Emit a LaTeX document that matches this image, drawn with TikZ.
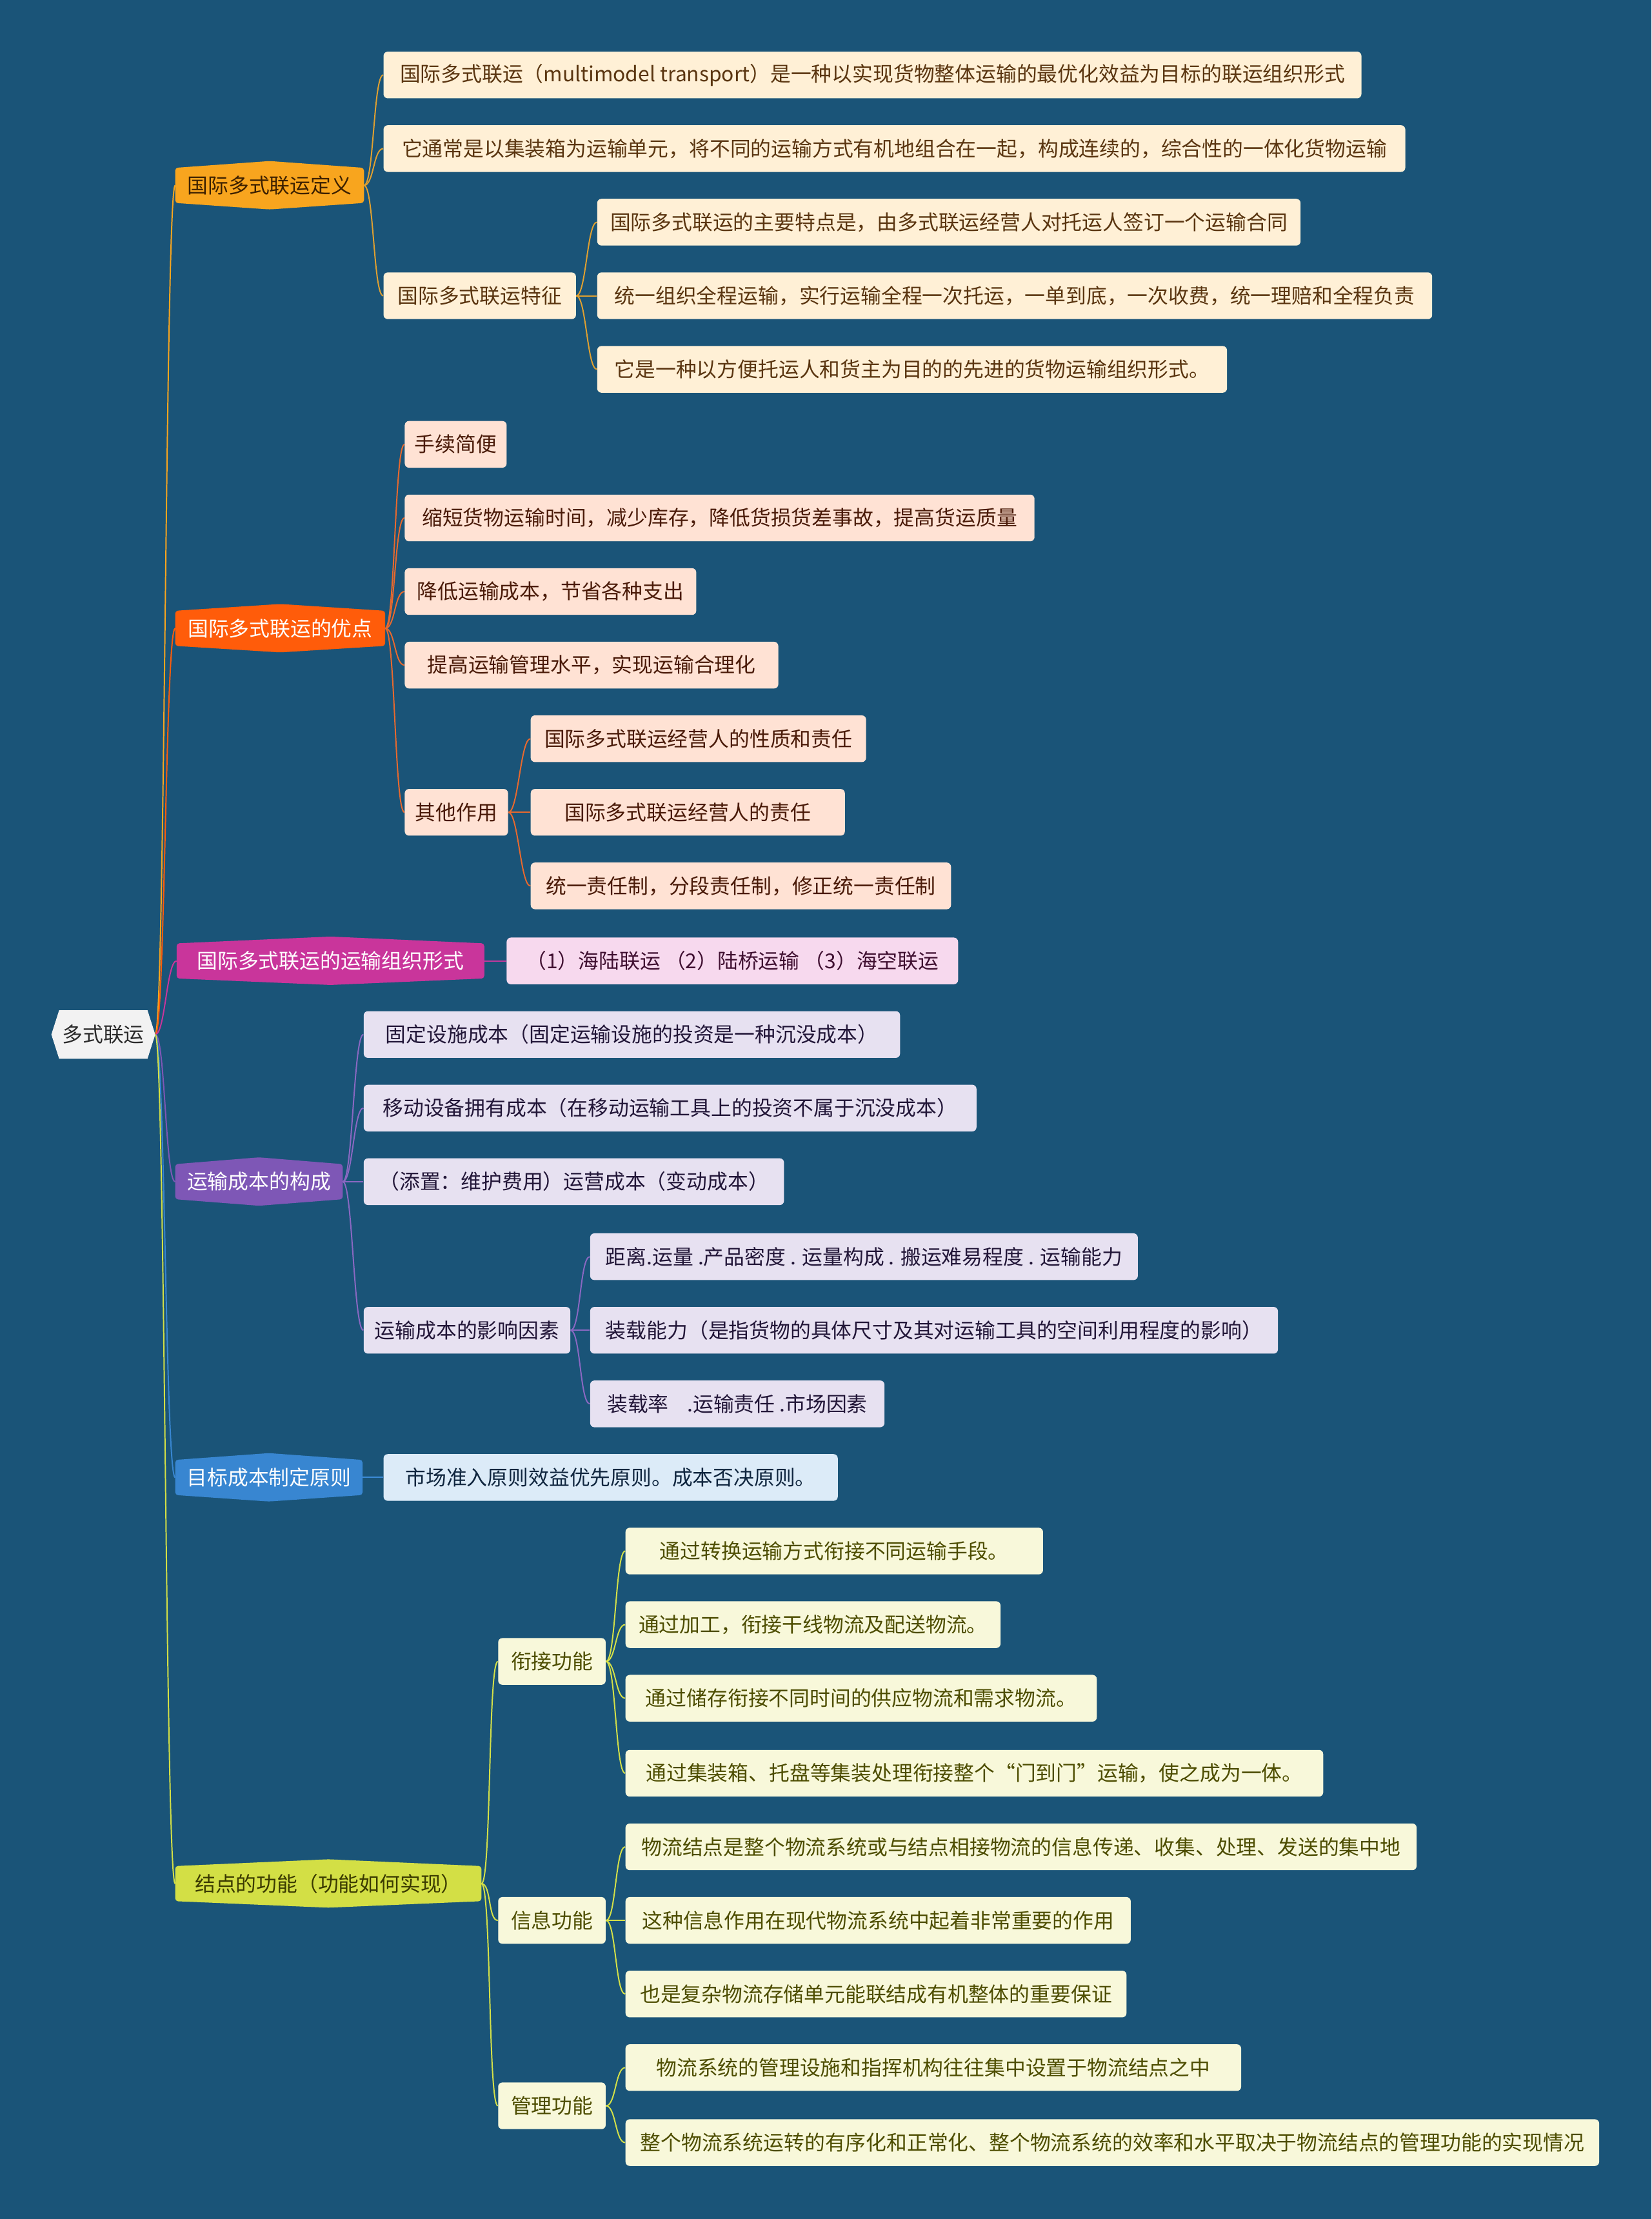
\documentclass[tikz,border=0pt]{standalone}
\usepackage{fontspec}
\newfontfamily\cjk{Noto Sans CJK SC}
\usetikzlibrary{calc}
\pgfdeclarelayer{bgl}\pgfdeclarelayer{mid}\pgfsetlayers{bgl,mid,main}
\definecolor{bgc}{HTML}{1A5478}
\definecolor{rootf}{HTML}{F2F2F2}\definecolor{roott}{HTML}{2B2B2B}
\definecolor{cA}{HTML}{F8A51E}\definecolor{cB}{HTML}{FF5C0A}\definecolor{cC}{HTML}{C9359B}
\definecolor{cD}{HTML}{7E57B6}\definecolor{cE}{HTML}{3886D1}\definecolor{cF}{HTML}{D3DF45}
\definecolor{tAone}{HTML}{3D2100}\definecolor{tFone}{HTML}{3A3A00}
\definecolor{fA}{HTML}{FFF0D6}\definecolor{tA}{HTML}{5A3510}
\definecolor{fB}{HTML}{FFE2D4}\definecolor{tB}{HTML}{4A1A08}
\definecolor{fC}{HTML}{F7D9EE}\definecolor{tC}{HTML}{3F0F30}
\definecolor{fD}{HTML}{E7E1F1}\definecolor{tD}{HTML}{221638}
\definecolor{fE}{HTML}{DCEBF8}\definecolor{tE}{HTML}{10263F}
\definecolor{fF}{HTML}{F8F8DA}\definecolor{tF}{HTML}{4D4D00}
\definecolor{lA}{HTML}{E0A030}\definecolor{lB}{HTML}{E8692E}\definecolor{lC}{HTML}{C0399C}
\definecolor{lD}{HTML}{8A68C2}\definecolor{lE}{HTML}{3C8BD6}\definecolor{lF}{HTML}{D4E048}
\tikzset{
  base/.style={inner sep=0pt, font=\cjk\fontsize{14.5}{17}\selectfont, align=center},
  leaf/.style={base, rounded corners=3pt, minimum height=33pt},
  lone/.style={base, minimum height=24.4pt},
  lk/.style={line width=0.9pt},
  leafA/.style={leaf, fill=fA, text=tA},
  leafB/.style={leaf, fill=fB, text=tB},
  leafC/.style={leaf, fill=fC, text=tC},
  leafD/.style={leaf, fill=fD, text=tD},
  leafE/.style={leaf, fill=fE, text=tE},
  leafF/.style={leaf, fill=fF, text=tF},
}
\newcommand\hexbox[2]{\fill[#2, rounded corners=2pt] (#1.north west) -- ($(#1.north)+(0pt,4.8pt)$) -- (#1.north east) -- (#1.south east) -- ($(#1.south)+(0pt,-4.6pt)$) -- (#1.south west) -- cycle;}
\newcommand\link[3]{\draw[lk,#1] (#2) .. controls +(7pt,0pt) and +(-7pt,0pt) .. (#3);}
\begin{document}
\begin{tikzpicture}[x=1pt,y=-1pt]
\useasboundingbox (0,0) rectangle (1167,1568);
\begin{pgfonlayer}{bgl}
\fill[bgc] (0,0) rectangle (1167,1568);
\end{pgfonlayer}

% root
\node[base, minimum width=62pt, minimum height=34pt, text=roott] (root) at (73,731) {多式联运};
\coordinate (rootR) at ($(root.east)+(5.5pt,0pt)$);

% level 1
\node[lone, minimum width=133pt, text=tAone] (d1) at (190.5,131) {国际多式联运定义};
\node[lone, minimum width=148pt, text=white] (d2) at (198,444) {国际多式联运的优点};
\node[lone, minimum width=217pt, text=white] (d3) at (233.5,679) {国际多式联运的运输组织形式};
\node[lone, minimum width=118pt, text=white] (d4) at (183,835) {运输成本的构成};
\node[lone, minimum width=132pt, text=white] (d5) at (190,1044) {目标成本制定原则};
\node[lone, minimum width=216pt, text=tFone] (d6) at (232,1331) {结点的功能（功能如何实现）};

% branch A
\node[leafA, minimum width=691pt] (a1) at (616.5,53) {国际多式联运（multimodel transport）是一种以实现货物整体运输的最优化效益为目标的联运组织形式};
\node[leafA, minimum width=722pt] (a2) at (632,105) {它通常是以集装箱为运输单元，将不同的运输方式有机地组合在一起，构成连续的，综合性的一体化货物运输};
\node[leafA, minimum width=136pt] (a3) at (339,209) {国际多式联运特征};
\node[leafA, minimum width=497pt] (a31) at (670.5,157) {国际多式联运的主要特点是，由多式联运经营人对托运人签订一个运输合同};
\node[leafA, minimum width=590pt] (a32) at (717,209) {统一组织全程运输，实行运输全程一次托运，一单到底，一次收费，统一理赔和全程负责};
\node[leafA, minimum width=445pt] (a33) at (644.5,261) {它是一种以方便托运人和货主为目的的先进的货物运输组织形式。};

% branch B
\node[leafB, minimum width=72pt] (b1) at (322,314) {手续简便};
\node[leafB, minimum width=445pt] (b2) at (508.5,366) {缩短货物运输时间，减少库存，降低货损货差事故，提高货运质量};
\node[leafB, minimum width=206pt] (b3) at (389,418) {降低运输成本，节省各种支出};
\node[leafB, minimum width=264pt] (b4) at (418,470) {提高运输管理水平，实现运输合理化};
\node[leafB, minimum width=73pt] (b5) at (322.5,574) {其他作用};
\node[leafB, minimum width=237pt] (b51) at (493.5,522) {国际多式联运经营人的性质和责任};
\node[leafB, minimum width=222pt] (b52) at (486,574) {国际多式联运经营人的责任};
\node[leafB, minimum width=297pt] (b53) at (523.5,626) {统一责任制，分段责任制，修正统一责任制};

% branch C
\node[leafC, minimum width=319pt] (c1) at (517.5,679) {（1）海陆联运 （2）陆桥运输 （3）海空联运};

% branch D
\node[leafD, minimum width=379pt] (e1) at (446.5,731) {固定设施成本（固定运输设施的投资是一种沉没成本）};
\node[leafD, minimum width=433pt] (e2) at (473.5,783) {移动设备拥有成本（在移动运输工具上的投资不属于沉没成本）};
\node[leafD, minimum width=297pt] (e3) at (405.5,835) {（添置：维护费用）运营成本（变动成本）};
\node[leafD, minimum width=146pt] (e4) at (330,940) {运输成本的影响因素};
\node[leafD, minimum width=387pt] (e41) at (610.5,888) {距离.运量 .产品密度 . 运量构成 . 搬运难易程度 . 运输能力};
\node[leafD, minimum width=486pt] (e42) at (660,940) {装载能力（是指货物的具体尺寸及其对运输工具的空间利用程度的影响）};
\node[leafD, minimum width=208pt] (e43) at (521,992) {装载率\hspace{0.9em}.运输责任 .市场因素};

% branch E
\node[leafE, minimum width=321pt] (f1) at (431.5,1044) {市场准入原则效益优先原则。成本否决原则。};

% branch F
\node[leafF, minimum width=76pt] (g1) at (390,1174) {衔接功能};
\node[leafF, minimum width=295pt] (g11) at (589.5,1096) {通过转换运输方式衔接不同运输手段。};
\node[leafF, minimum width=265pt] (g12) at (574.5,1148) {通过加工，衔接干线物流及配送物流。};
\node[leafF, minimum width=333pt] (g13) at (608.5,1200) {通过储存衔接不同时间的供应物流和需求物流。};
\node[leafF, minimum width=493pt] (g14) at (688.5,1253) {通过集装箱、托盘等集装处理衔接整个“门到门”运输，使之成为一体。};
\node[leafF, minimum width=76pt] (g2) at (390,1357) {信息功能};
\node[leafF, minimum width=559pt] (g21) at (721.5,1305) {物流结点是整个物流系统或与结点相接物流的信息传递、收集、处理、发送的集中地};
\node[leafF, minimum width=357pt] (g22) at (620.5,1357) {这种信息作用在现代物流系统中起着非常重要的作用};
\node[leafF, minimum width=354pt] (g23) at (619,1409) {也是复杂物流存储单元能联结成有机整体的重要保证};
\node[leafF, minimum width=76pt] (g3) at (390,1488) {管理功能};
\node[leafF, minimum width=435pt] (g31) at (659.5,1461) {物流系统的管理设施和指挥机构往往集中设置于物流结点之中};
\node[leafF, minimum width=688pt] (g32) at (786,1514) {整个物流系统运转的有序化和正常化、整个物流系统的效率和水平取决于物流结点的管理功能的实现情况};

\begin{pgfonlayer}{mid}
% root and level-1 shapes
\fill[rootf] (root.north west) -- (root.north east) -- (rootR) -- (root.south east) -- (root.south west) -- ($(root.west)+(-5.5pt,0pt)$) -- cycle;
\hexbox{d1}{cA}\hexbox{d2}{cB}\hexbox{d3}{cC}\hexbox{d4}{cD}\hexbox{d5}{cE}\hexbox{d6}{cF}
% root connectors
\link{cA}{rootR}{d1.west}
\link{cB}{rootR}{d2.west}
\link{cC}{rootR}{d3.west}
\link{cD}{rootR}{d4.west}
\link{cE}{rootR}{d5.west}
\link{cF}{rootR}{d6.west}
% branch A
\link{lA}{d1.east}{a1.west}
\link{lA}{d1.east}{a2.west}
\link{lA}{d1.east}{a3.west}
\link{lA}{a3.east}{a31.west}
\link{lA}{a3.east}{a32.west}
\link{lA}{a3.east}{a33.west}
% branch B
\link{lB}{d2.east}{b1.west}
\link{lB}{d2.east}{b2.west}
\link{lB}{d2.east}{b3.west}
\link{lB}{d2.east}{b4.west}
\link{lB}{d2.east}{b5.west}
\link{lB}{b5.east}{b51.west}
\link{lB}{b5.east}{b52.west}
\link{lB}{b5.east}{b53.west}
% branch C
\draw[lk,lC] (d3.east) -- (c1.west);
% branch D
\link{lD}{d4.east}{e1.west}
\link{lD}{d4.east}{e2.west}
\link{lD}{d4.east}{e3.west}
\link{lD}{d4.east}{e4.west}
\link{lD}{e4.east}{e41.west}
\link{lD}{e4.east}{e42.west}
\link{lD}{e4.east}{e43.west}
% branch E
\draw[lk,lE] (d5.east) -- (f1.west);
% branch F
\link{lF}{d6.east}{g1.west}
\link{lF}{d6.east}{g2.west}
\link{lF}{d6.east}{g3.west}
\link{lF}{g1.east}{g11.west}
\link{lF}{g1.east}{g12.west}
\link{lF}{g1.east}{g13.west}
\link{lF}{g1.east}{g14.west}
\link{lF}{g2.east}{g21.west}
\link{lF}{g2.east}{g22.west}
\link{lF}{g2.east}{g23.west}
\link{lF}{g3.east}{g31.west}
\link{lF}{g3.east}{g32.west}
\end{pgfonlayer}
\end{tikzpicture}
\end{document}
